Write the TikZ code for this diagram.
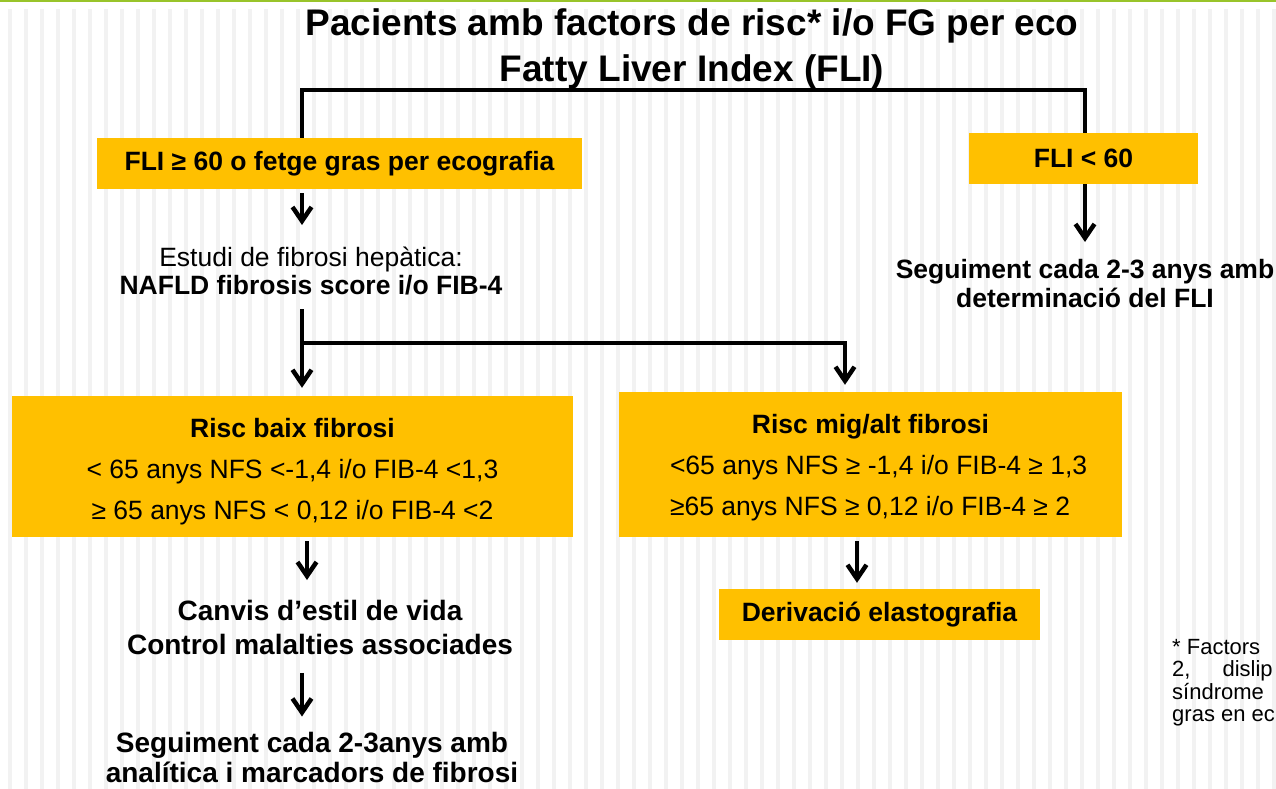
\documentclass[tikz,border=0pt]{standalone}
\usepackage{fontspec}
\setmainfont{Liberation Sans}
\usetikzlibrary{arrows.meta}
\definecolor{boxyellow}{RGB}{255,192,0}
\definecolor{topgreen}{RGB}{153,196,42}
\definecolor{stripegray}{RGB}{242,242,242}

\begin{document}
\begin{tikzpicture}
	[x=1pt, y=-1pt,
	box/.style={fill=boxyellow, inner sep=0pt, font=\fontsize{26.5}{30}\selectfont\bfseries},
	txt/.style={inner sep=0pt, align=center, anchor=north, font=\fontsize{26.5}{29}\selectfont\bfseries},
	link/.style={line width=4.5pt},
	arr/.style={line width=4.5pt, -{Straight Barb[length=14pt,width=19pt]}}]
	\useasboundingbox (0,0) rectangle (1276,789);
	\clip (0,0) rectangle (1276,789);
	\fill[white] (0,0) rectangle (1276,789);
	\foreach \i in {0,...,79}
		\fill[stripegray] (7.5+16*\i,9) rectangle ++(4,780);
	\fill[topgreen] (0,0) rectangle (1276,2.5);

	% title
	\node[txt, font=\fontsize{37}{46}\selectfont\bfseries] (title) at (692,8)
		{Pacients amb factors de risc* i/o FG per eco\\Fatty Liver Index (FLI)};

	% first split
	\node[box, minimum width=485, minimum height=51] (high) at (339.5,163.5) {FLI ≥ 60 o fetge gras per ecografia};
	\node[box, minimum width=229, minimum height=51] (low) at (1083.5,158.5) {FLI < 60};
	\node[txt, font=\fontsize{26.5}{28}\selectfont] (estudi) at (311,247)
		{Estudi de fibrosi hepàtica:\\\textbf{NAFLD fibrosis score i/o FIB-4}};
	\node[txt] (segfli) at (1085,259)
		{Seguiment cada 2-3 anys amb\\determinació del FLI};

	% risk boxes
	\node[box, font=\fontsize{26.5}{41}\selectfont, align=center, minimum width=561, minimum height=141] (lowrisk) at (292.5,466.5)
		{\rule{0pt}{30pt}\textbf{Risc baix fibrosi}\\< 65 anys NFS <-1,4 i/o FIB-4 <1,3\\≥ 65 anys NFS < 0,12 i/o FIB-4 <2};
	\node[box, font=\fontsize{26.5}{41}\selectfont, align=left, minimum width=503, minimum height=145] (midrisk) at (870.5,464.5)
		{\rule{0pt}{25pt}\makebox[435pt]{\textbf{Risc mig/alt fibrosi}}\\\hspace*{17pt}<65 anys NFS ≥ -1,4 i/o FIB-4 ≥ 1,3\\\hspace*{17pt}≥65 anys NFS ≥ 0,12 i/o FIB-4 ≥ 2};

	% outcomes
	\node[txt, font=\fontsize{28}{34}\selectfont\bfseries] (canvis) at (320,600)
		{Canvis d’estil de vida\\Control malalties associades};
	\node[txt, font=\fontsize{28}{30}\selectfont\bfseries] (segfib) at (312,732.5)
		{Seguiment cada 2-3anys amb\\analítica i marcadors de fibrosi};
	\node[box, minimum width=321, minimum height=51] (elasto) at (879.5,614.5) {Derivació elastografia};
	\node[inner sep=0pt, anchor=north west, align=left, font=\fontsize{22}{22.5}\selectfont] (note) at (1172,639)
		{* Factors\\2,\hspace{32pt}dislip\\síndrome\\gras en ec};

	% connectors
	\coordinate (splitL) at (302,90);
	\coordinate (splitR) at (1085,90);
	\coordinate (fork) at (302,343);
	\coordinate (forkR) at (845,343);
	\coordinate (colB) at (307,0);
	\coordinate (colD) at (857,0);
	\draw[link] (high.north -| splitL) -- (splitL) -- (splitR) -- (low.north -| splitR);
	\draw[arr, shorten <=4pt, shorten >=22pt] (high.south -| splitL) -- (estudi.north -| splitL);
	\draw[arr, shorten >=17pt] (low.south -| splitR) -- (segfli.north -| splitR);
	\draw[arr, shorten <=14pt, shorten >=8pt] (estudi.south -| fork) -- (lowrisk.north -| fork);
	\draw[arr, shorten >=7pt] (fork) -- (forkR) -- (midrisk.north -| forkR);
	\draw[arr, shorten <=4pt, shorten >=20pt] (lowrisk.south -| colB) -- (canvis.north -| colB);
	\draw[arr, shorten <=18pt, shorten >=16pt] (canvis.south -| fork) -- (segfib.north -| fork);
	\draw[arr, shorten <=4pt, shorten >=6pt] (midrisk.south -| colD) -- (elasto.north -| colD);
\end{tikzpicture}
\end{document}
